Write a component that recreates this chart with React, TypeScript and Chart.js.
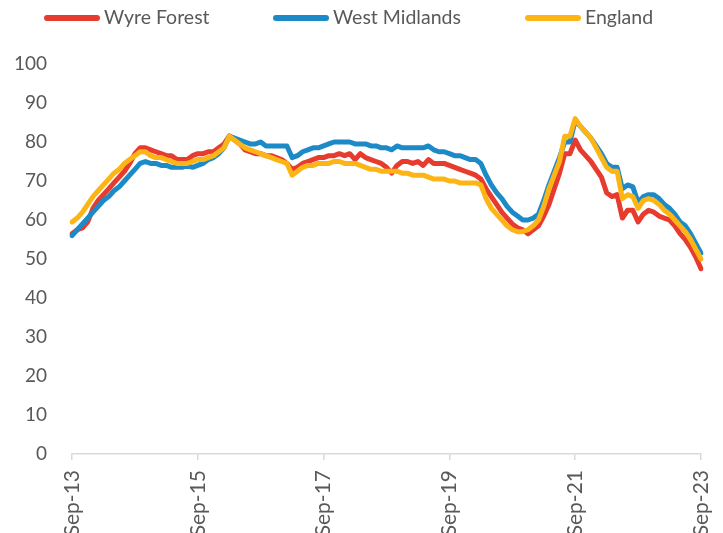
import React, { useEffect, useRef } from 'react';
import { Chart, registerables } from 'chart.js';

Chart.register(...registerables);

const monthNames = ['Jan', 'Feb', 'Mar', 'Apr', 'May', 'Jun', 'Jul', 'Aug', 'Sep', 'Oct', 'Nov', 'Dec'];
const firstYear = 2013;
const firstMonthIndex = 8; // Sep
const monthCount = 121; // Sep-13 .. Sep-23

const categories: string[] = Array.from({ length: monthCount }, (_, i) => {
  const m = (firstMonthIndex + i) % 12;
  const y = firstYear + Math.floor((firstMonthIndex + i) / 12);
  return `${monthNames[m]}-${String(y % 100).padStart(2, '0')}`;
});

const shownTickLabels = ['Sep-13', 'Sep-15', 'Sep-17', 'Sep-19', 'Sep-21', 'Sep-23'];

const wyreForest = [
  56.5, 57.5, 58, 59.5, 63, 65, 66.5, 68, 69.5, 71, 72.5, 74.5, 77, 78.5, 78.5, 78, 77.5, 77, 76.5, 76.5,
  75.5, 75.5, 75.5, 76.5, 77, 77, 77.5, 77.5, 78.5, 79.5, 81.5, 80.5, 79.5, 78, 77.5, 77, 77, 76.5, 76.5, 76,
  75.5, 74.5, 73, 73.5, 74.5, 75, 75.5, 76, 76, 76.5, 76.5, 77, 76.5, 77, 75.5, 77, 76, 75.5, 75, 74.5,
  73.5, 72, 74, 75, 75, 74.5, 75, 74, 75.5, 74.5, 74.5, 74.5, 74, 73.5, 73, 72.5, 72, 71.5, 70.5, 68,
  66, 64, 62, 60.5, 59, 58, 57.5, 56.5, 57.5, 58.5, 61, 64, 68, 72, 77, 77, 80.5, 78, 76.5, 75,
  73, 71, 67, 66, 66.5, 60.5, 62.5, 62.5, 59.5, 61.5, 62.5, 62, 61, 60.5, 60, 58.5, 56.5, 55, 53, 50.5,
  47.5,
];

const westMidlands = [
  56, 57.5, 59, 60.5, 62, 63.5, 65, 66, 67.5, 68.5, 70, 71.5, 73, 74.5, 75, 74.5, 74.5, 74, 74, 73.5,
  73.5, 73.5, 74, 73.5, 74, 74.5, 75.5, 76, 77, 78.5, 81.5, 81, 80.5, 80, 79.5, 79.5, 80, 79, 79, 79,
  79, 79, 76, 76.5, 77.5, 78, 78.5, 78.5, 79, 79.5, 80, 80, 80, 80, 79.5, 79.5, 79.5, 79, 79, 78.5,
  78.5, 78, 79, 78.5, 78.5, 78.5, 78.5, 78.5, 79, 78, 77.5, 77.5, 77, 76.5, 76.5, 76, 75.5, 75.5, 74.5, 71.5,
  69, 67, 65.5, 63.5, 62, 61, 60, 60, 60.5, 61.5, 65, 69, 72.5, 76, 80, 80, 85.5, 84, 82.5, 81,
  79, 77, 74.5, 73.5, 73.5, 68, 69, 68.5, 64.5, 66, 66.5, 66.5, 65.5, 64, 63, 61.5, 59.5, 58.5, 56.5, 54,
  51.5,
];

const england = [
  59.5, 60.5, 62, 64, 66, 67.5, 69, 70.5, 72, 73, 74.5, 75.5, 76.5, 77.5, 77.5, 76.5, 76, 76, 75.5, 75,
  74.5, 74.5, 74.5, 75, 75.5, 75.5, 76, 76.5, 77.5, 78.5, 81.5, 80.5, 79.5, 78.5, 78, 77.5, 77, 76.5, 76, 75.5,
  75, 74.5, 71.5, 72.5, 73.5, 74, 74, 74.5, 74.5, 74.5, 75, 75, 74.5, 74.5, 74.5, 74, 73.5, 73, 73, 72.5,
  72.5, 72.5, 72.5, 72, 72, 71.5, 71.5, 71.5, 71, 70.5, 70.5, 70.5, 70, 70, 69.5, 69.5, 69.5, 69.5, 69, 65.5,
  63, 61.5, 60, 58.5, 57.5, 57, 57, 57.5, 58.5, 60, 63.5, 68, 71.5, 75, 81.5, 81.5, 86, 84, 82.5, 81,
  78.5, 76, 73.5, 72.5, 72.5, 65.5, 66.5, 66, 63, 65, 65.5, 65, 64, 62.5, 61.5, 60, 58.5, 57, 55, 52.5,
  50,
];

const seriesNames = ['Wyre Forest', 'West Midlands', 'England'];
const yMin = 0;
const yMax = 100;
const yStep = 10;

const RED = '#E63B2D';
const BLUE = '#1C8AC6';
const YELLOW = '#FDB515';
const TEXT = '#595959';
const AXIS = '#D9D9D9';
const FONT = 'Lato, "Open Sans", sans-serif';

const W = 723;
const H = 570;
const PLOT_TOP = 63;
const PLOT_BOTTOM = 453;
const PLOT_LEFT = 72;
const PLOT_RIGHT = 701;
const legendStarts = [44, 273, 525];

const legendPlugin = {
  id: 'customLegend',
  afterDraw(chart: any) {
    const ctx = chart.ctx as CanvasRenderingContext2D;
    const colors = [RED, BLUE, YELLOW];
    ctx.save();
    ctx.font = `19.5px ${FONT}`;
    ctx.textBaseline = 'middle';
    ctx.textAlign = 'left';
    const y = 18;
    seriesNames.forEach((name, i) => {
      const x = legendStarts[i];
      ctx.strokeStyle = colors[i];
      ctx.lineWidth = 6;
      ctx.lineCap = 'round';
      ctx.beginPath();
      ctx.moveTo(x + 3, y);
      ctx.lineTo(x + 53, y);
      ctx.stroke();
      ctx.fillStyle = TEXT;
      ctx.fillText(name, x + 60, y);
    });
    ctx.restore();
  },
};

export default function App() {
  const canvasRef = useRef<HTMLCanvasElement | null>(null);

  useEffect(() => {
    if (!canvasRef.current) return;
    const common = {
      pointRadius: 0,
      pointHoverRadius: 0,
      borderWidth: 5,
      tension: 0,
      fill: false,
      borderJoinStyle: 'round' as const,
      borderCapStyle: 'round' as const,
    };
    const chart = new Chart(canvasRef.current, {
      type: 'line',
      data: {
        labels: categories,
        datasets: [
          { ...common, label: seriesNames[0], data: wyreForest, borderColor: RED, backgroundColor: RED, order: 2 },
          { ...common, label: seriesNames[1], data: westMidlands, borderColor: BLUE, backgroundColor: BLUE, order: 1 },
          { ...common, label: seriesNames[2], data: england, borderColor: YELLOW, backgroundColor: YELLOW, order: 0 },
        ],
      },
      options: {
        responsive: false,
        animation: false,
        layout: { padding: { top: PLOT_TOP + 1, right: W - PLOT_RIGHT, left: 0, bottom: 0 } },
        plugins: {
          legend: { display: false },
          tooltip: { enabled: false },
        },
        scales: {
          x: {
            offset: false,
            grid: {
              display: true,
              drawOnChartArea: false,
              drawTicks: true,
              tickLength: 6,
              color: AXIS,
              lineWidth: 1.5,
            },
            border: { display: true, color: AXIS, width: 1.5 },
            ticks: {
              autoSkip: false,
              maxRotation: 90,
              minRotation: 90,
              padding: 10,
              color: TEXT,
              font: { family: FONT, size: 21 },
              callback: (_v: any, idx: number) =>
                shownTickLabels.includes(categories[idx]) ? categories[idx] : null,
            },
            afterFit: (s: any) => {
              s.height = H - PLOT_BOTTOM - 1;
              s.paddingLeft = 0;
              s.paddingRight = 0;
            },
          },
          y: {
            min: yMin,
            max: yMax,
            grid: { display: false, drawTicks: false },
            border: { display: false },
            ticks: {
              stepSize: yStep,
              padding: 25,
              color: TEXT,
              font: { family: FONT, size: 19 },
            },
            afterFit: (s: any) => {
              s.width = PLOT_LEFT;
            },
          },
        },
      },
      plugins: [legendPlugin],
    });
    return () => chart.destroy();
  }, []);

  return (
    <div style={{ position: 'fixed', left: 0, top: 0, width: W, height: H, background: '#fff' }}>
      <canvas ref={canvasRef} width={W} height={H} style={{ display: 'block' }} />
    </div>
  );
}
